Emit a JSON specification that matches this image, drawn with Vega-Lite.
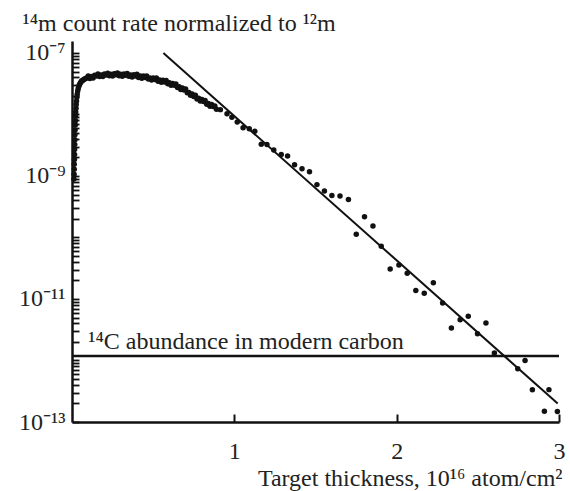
{
  "$schema": "https://vega.github.io/schema/vega-lite/v6.json",
  "width": 487,
  "height": 381,
  "autosize": {"type": "none"},
  "padding": {"left": 72, "top": 41, "right": 11, "bottom": 69},
  "background": "white",
  "config": {"view": {"stroke": null}, "font": "Liberation Serif"},
  "datasets": {
    "points": [
      {"x": 0.012, "y": 8.91e-10}, {"x": 0.013, "y": 1.07e-9}, {"x": 0.014, "y": 1.29e-9}, {"x": 0.014, "y": 1.55e-9},
      {"x": 0.015, "y": 1.86e-9}, {"x": 0.016, "y": 2.24e-9}, {"x": 0.016, "y": 2.69e-9}, {"x": 0.017, "y": 3.24e-9},
      {"x": 0.018, "y": 3.89e-9}, {"x": 0.018, "y": 4.68e-9}, {"x": 0.019, "y": 5.62e-9}, {"x": 0.020, "y": 6.76e-9},
      {"x": 0.021, "y": 7.94e-9}, {"x": 0.022, "y": 9.33e-9}, {"x": 0.023, "y": 1.10e-8}, {"x": 0.025, "y": 1.26e-8},
      {"x": 0.026, "y": 1.45e-8}, {"x": 0.028, "y": 1.66e-8}, {"x": 0.030, "y": 1.91e-8}, {"x": 0.032, "y": 2.14e-8},
      {"x": 0.035, "y": 2.40e-8}, {"x": 0.038, "y": 2.63e-8}, {"x": 0.041, "y": 2.82e-8}, {"x": 0.045, "y": 3.02e-8},
      {"x": 0.049, "y": 3.16e-8}, {"x": 0.053, "y": 3.31e-8}, {"x": 0.058, "y": 3.47e-8}, {"x": 0.063, "y": 3.55e-8},
      {"x": 0.068, "y": 3.63e-8}, {"x": 0.074, "y": 3.72e-8}, {"x": 0.080, "y": 3.80e-8}, {"x": 0.086, "y": 3.89e-8},
      {"x": 0.093, "y": 3.94e-8},
      {"x": 0.10, "y": 4.22e-8}, {"x": 0.11, "y": 3.85e-8}, {"x": 0.12, "y": 4.14e-8}, {"x": 0.13, "y": 3.92e-8},
      {"x": 0.14, "y": 4.36e-8}, {"x": 0.15, "y": 4.22e-8}, {"x": 0.16, "y": 4.55e-8}, {"x": 0.17, "y": 4.13e-8},
      {"x": 0.18, "y": 4.41e-8}, {"x": 0.19, "y": 4.14e-8}, {"x": 0.20, "y": 4.57e-8}, {"x": 0.21, "y": 4.38e-8},
      {"x": 0.22, "y": 4.70e-8}, {"x": 0.23, "y": 4.25e-8}, {"x": 0.24, "y": 4.51e-8}, {"x": 0.25, "y": 4.22e-8},
      {"x": 0.26, "y": 4.62e-8}, {"x": 0.27, "y": 4.41e-8}, {"x": 0.28, "y": 4.72e-8}, {"x": 0.29, "y": 4.25e-8},
      {"x": 0.30, "y": 4.50e-8}, {"x": 0.31, "y": 4.18e-8}, {"x": 0.32, "y": 4.57e-8}, {"x": 0.33, "y": 4.35e-8},
      {"x": 0.34, "y": 4.65e-8}, {"x": 0.35, "y": 4.17e-8}, {"x": 0.36, "y": 4.40e-8}, {"x": 0.37, "y": 4.07e-8},
      {"x": 0.38, "y": 4.45e-8}, {"x": 0.39, "y": 4.22e-8}, {"x": 0.40, "y": 4.50e-8}, {"x": 0.41, "y": 4.01e-8},
      {"x": 0.42, "y": 4.21e-8}, {"x": 0.43, "y": 3.88e-8}, {"x": 0.44, "y": 4.22e-8}, {"x": 0.45, "y": 3.98e-8},
      {"x": 0.46, "y": 4.22e-8}, {"x": 0.47, "y": 3.76e-8}, {"x": 0.48, "y": 3.94e-8}, {"x": 0.49, "y": 3.63e-8},
      {"x": 0.50, "y": 3.94e-8}, {"x": 0.51, "y": 3.71e-8}, {"x": 0.52, "y": 3.92e-8}, {"x": 0.53, "y": 3.48e-8},
      {"x": 0.54, "y": 3.64e-8}, {"x": 0.55, "y": 3.35e-8}, {"x": 0.56, "y": 3.61e-8}, {"x": 0.57, "y": 3.38e-8},
      {"x": 0.58, "y": 3.56e-8}, {"x": 0.59, "y": 3.15e-8}, {"x": 0.60, "y": 3.27e-8}, {"x": 0.61, "y": 2.99e-8},
      {"x": 0.62, "y": 3.20e-8}, {"x": 0.63, "y": 2.99e-8}, {"x": 0.64, "y": 3.13e-8}, {"x": 0.65, "y": 2.75e-8},
      {"x": 0.66, "y": 2.82e-8}, {"x": 0.67, "y": 2.55e-8}, {"x": 0.68, "y": 2.71e-8}, {"x": 0.69, "y": 2.51e-8},
      {"x": 0.70, "y": 2.60e-8}, {"x": 0.71, "y": 2.25e-8}, {"x": 0.72, "y": 2.29e-8}, {"x": 0.73, "y": 2.05e-8},
      {"x": 0.74, "y": 2.15e-8}, {"x": 0.75, "y": 1.97e-8}, {"x": 0.76, "y": 2.05e-8}, {"x": 0.77, "y": 1.79e-8},
      {"x": 0.78, "y": 1.83e-8}, {"x": 0.79, "y": 1.66e-8}, {"x": 0.80, "y": 1.76e-8}, {"x": 0.81, "y": 1.63e-8},
      {"x": 0.82, "y": 1.69e-8}, {"x": 0.83, "y": 1.47e-8}, {"x": 0.84, "y": 1.51e-8}, {"x": 0.85, "y": 1.36e-8},
      {"x": 0.86, "y": 1.45e-8}, {"x": 0.87, "y": 1.35e-8}, {"x": 0.88, "y": 1.38e-8}, {"x": 0.89, "y": 1.22e-8},
      {"x": 0.914, "y": 1.20e-8}, {"x": 0.955, "y": 1.03e-8}, {"x": 0.985, "y": 8.99e-9}, {"x": 1.018, "y": 7.55e-9},
      {"x": 1.054, "y": 6.08e-9}, {"x": 1.092, "y": 5.85e-9}, {"x": 1.126, "y": 5.33e-9}, {"x": 1.166, "y": 3.27e-9},
      {"x": 1.201, "y": 3.24e-9}, {"x": 1.243, "y": 2.65e-9}, {"x": 1.289, "y": 2.24e-9}, {"x": 1.328, "y": 2.11e-9},
      {"x": 1.371, "y": 1.52e-9}, {"x": 1.417, "y": 1.31e-9}, {"x": 1.463, "y": 1.17e-9}, {"x": 1.509, "y": 7.24e-10},
      {"x": 1.555, "y": 5.70e-10}, {"x": 1.601, "y": 4.80e-10}, {"x": 1.651, "y": 4.71e-10}, {"x": 1.703, "y": 4.15e-10},
      {"x": 1.751, "y": 1.13e-10}, {"x": 1.802, "y": 2.17e-10}, {"x": 1.854, "y": 1.54e-10}, {"x": 1.905, "y": 7.20e-11},
      {"x": 1.960, "y": 3.08e-11}, {"x": 2.014, "y": 3.57e-11}, {"x": 2.065, "y": 2.62e-11}, {"x": 2.118, "y": 1.38e-11},
      {"x": 2.170, "y": 1.24e-11}, {"x": 2.226, "y": 1.83e-11}, {"x": 2.283, "y": 8.61e-12}, {"x": 2.337, "y": 3.37e-12},
      {"x": 2.391, "y": 4.59e-12}, {"x": 2.441, "y": 5.24e-12}, {"x": 2.498, "y": 2.72e-12}, {"x": 2.550, "y": 4.06e-12},
      {"x": 2.602, "y": 1.33e-12}, {"x": 2.746, "y": 7.33e-13}, {"x": 2.791, "y": 1.0e-12}, {"x": 2.836, "y": 3.34e-13},
      {"x": 2.910, "y": 1.49e-13}, {"x": 2.938, "y": 3.36e-13}, {"x": 2.990, "y": 1.48e-13}
    ],
    "fit": [{"x": 0.563, "y": 1e-7}, {"x": 2.992, "y": 2.0e-13}],
    "ref": [{"y": 1.18e-12, "label": "¹⁴C abundance in modern carbon"}]
  },
  "layer": [
    {
      "data": {"name": "points"},
      "mark": {"type": "circle", "size": 30, "color": "#111", "opacity": 1},
      "encoding": {
        "x": {
          "field": "x", "type": "quantitative",
          "scale": {"domain": [0, 3], "nice": false, "zero": false},
          "axis": {
            "values": [1, 2, 3],
            "format": "d",
            "grid": false,
            "domainColor": "#111", "domainWidth": 2.5,
            "ticks": true, "tickColor": "#111", "tickWidth": 2, "tickSize": -8,
            "labelPadding": 25, "labelFont": "Liberation Serif", "labelFontSize": 24, "labelColor": "#222",
            "labelFlush": false, "labelOverlap": false,
            "title": "Target thickness, 10¹⁶ atom/cm²",
            "titleFont": "Liberation Serif", "titleFontSize": 24, "titleFontWeight": "normal", "titleColor": "#222",
            "titleAnchor": "end", "titleAlign": "right", "titleBaseline": "alphabetic",
            "titleX": 490, "titleY": 63
          }
        },
        "y": {
          "field": "y", "type": "quantitative",
          "scale": {"type": "log", "domain": [1e-13, 1.567e-7], "nice": false},
          "axis": {
            "values": [1e-13, 2e-13, 3e-13, 4e-13, 5e-13, 6e-13, 7e-13, 8e-13, 9e-13,
                       1e-12, 2e-12, 3e-12, 4e-12, 5e-12, 6e-12, 7e-12, 8e-12, 9e-12,
                       1e-11, 2e-11, 3e-11, 4e-11, 5e-11, 6e-11, 7e-11, 8e-11, 9e-11,
                       1e-10, 2e-10, 3e-10, 4e-10, 5e-10, 6e-10, 7e-10, 8e-10, 9e-10,
                       1e-9, 2e-9, 3e-9, 4e-9, 5e-9, 6e-9, 7e-9, 8e-9, 9e-9,
                       1e-8, 2e-8, 3e-8, 4e-8, 5e-8, 6e-8, 7e-8, 8e-8, 9e-8, 1e-7],
            "labelExpr": "datum.value == 1e-13 ? '10⁻¹³' : datum.value == 1e-11 ? '10⁻¹¹' : datum.value == 1e-9 ? '10⁻⁹' : datum.value == 1e-7 ? '10⁻⁷' : ''",
            "grid": false,
            "domainColor": "#111", "domainWidth": 2.5,
            "ticks": true, "tickColor": "#111", "tickWidth": 1.8, "tickSize": -7,
            "labelPadding": 14, "labelFont": "Liberation Serif", "labelFontSize": 24, "labelColor": "#222",
            "labelFlush": false, "labelOverlap": false,
            "title": "¹⁴m count rate normalized to ¹²m",
            "titleFont": "Liberation Serif", "titleFontSize": 24, "titleFontWeight": "normal", "titleColor": "#222",
            "titleAngle": 0, "titleAlign": "left", "titleBaseline": "alphabetic",
            "titleX": -50, "titleY": -11,
            "encode": {"ticks": {"update": {"x2": {"signal": "abs(log(datum.value)/LN10 - round(log(datum.value)/LN10)) < 0.01 ? 10 : 7"}}}}
          }
        }
      }
    },
    {
      "data": {"name": "fit"},
      "mark": {"type": "line", "color": "#111", "strokeWidth": 2},
      "encoding": {
        "x": {"field": "x", "type": "quantitative"},
        "y": {"field": "y", "type": "quantitative"}
      }
    },
    {
      "data": {"name": "ref"},
      "mark": {"type": "rule", "color": "#111", "strokeWidth": 2.5},
      "encoding": {"y": {"field": "y", "type": "quantitative"}}
    },
    {
      "data": {"name": "ref"},
      "mark": {"type": "text", "align": "left", "baseline": "alphabetic", "dy": -7, "font": "Liberation Serif", "fontSize": 24, "color": "#222"},
      "encoding": {
        "x": {"datum": 0.1, "type": "quantitative"},
        "y": {"field": "y", "type": "quantitative"},
        "text": {"field": "label"}
      }
    }
  ]
}
